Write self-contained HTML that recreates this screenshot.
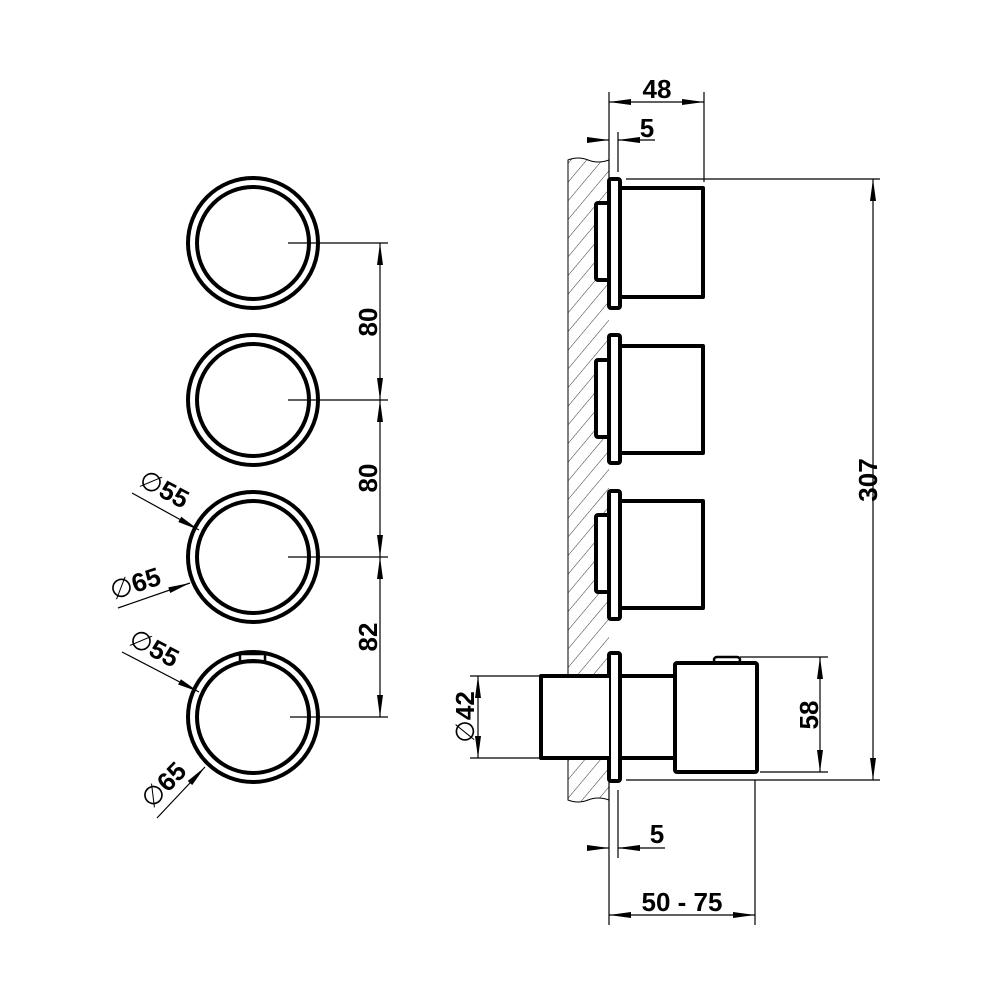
<!DOCTYPE html>
<html><head><style>body{margin:0;background:#fff}svg{display:block}</style></head><body>
<svg width="1000" height="1000" viewBox="0 0 1000 1000" xmlns="http://www.w3.org/2000/svg" font-family="Liberation Sans, sans-serif" font-weight="bold">
<defs>
<pattern id="h" patternUnits="userSpaceOnUse" width="12" height="12" patternTransform="rotate(40)">
<line x1="0" y1="0" x2="0" y2="12" stroke="#000" stroke-width="0.8"/></pattern>
<marker id="a" markerWidth="22" markerHeight="8" refX="22" refY="4" orient="auto" markerUnits="userSpaceOnUse"><path d="M0,1 L22,4 L0,7z" fill="#000"/></marker>
<marker id="b" markerWidth="22" markerHeight="8" refX="0" refY="4" orient="auto" markerUnits="userSpaceOnUse"><path d="M22,1 L0,4 L22,7z" fill="#000"/></marker>
</defs>
<g fill="none" stroke="#000">
<g stroke-width="4">
<circle cx="253" cy="243" r="65"/><circle cx="253" cy="243" r="56"/>
<circle cx="253" cy="400" r="65"/><circle cx="253" cy="400" r="56"/>
<circle cx="253" cy="557" r="65"/><circle cx="253" cy="557" r="56"/>
<circle cx="253" cy="717" r="65"/><circle cx="253" cy="717" r="56"/>
<rect x="240" y="654" width="25" height="8" stroke-width="2.5"/>
</g>
<g stroke-width="1.2">
<line x1="288" y1="243" x2="388" y2="243"/><line x1="288" y1="400" x2="388" y2="400"/>
<line x1="288" y1="557" x2="388" y2="557"/><line x1="290" y1="717" x2="388" y2="717"/>
<line x1="380" y1="243" x2="380" y2="400" marker-start="url(#b)" marker-end="url(#a)"/>
<line x1="380" y1="400" x2="380" y2="557" marker-start="url(#b)" marker-end="url(#a)"/>
<line x1="380" y1="557" x2="380" y2="717" marker-start="url(#b)" marker-end="url(#a)"/>
<line x1="132" y1="493" x2="199" y2="530" marker-end="url(#a)"/>
<line x1="118" y1="608" x2="190" y2="583" marker-end="url(#a)"/>
<line x1="122" y1="652" x2="199" y2="692" marker-end="url(#a)"/>
<line x1="157" y1="818" x2="205" y2="767" marker-end="url(#a)"/>
</g>
<path d="M568,800 L568,160 Q578,156 588,160 T609,160 L609,800 Q598,797 588,800 T568,800z" fill="url(#h)" stroke="none"/>
<path d="M609,160 Q598,164 588,160 T568,160 L568,800 Q578,804 588,800 T609,800" stroke-width="1"/>
<g stroke-width="4" stroke-linejoin="round">
<rect x="609" y="179" width="11" height="129" rx="2" fill="#fff"/><rect x="596" y="203" width="13" height="77" rx="2" fill="#fff"/>
<path d="M620,188 H703 V297 H620"/>
<rect x="609" y="335" width="11" height="128" rx="2" fill="#fff"/><rect x="596" y="360" width="13" height="77" rx="2" fill="#fff"/>
<path d="M620,346 H703 V453 H620"/>
<rect x="609" y="491" width="11" height="128" rx="2" fill="#fff"/><rect x="596" y="515" width="13" height="77" rx="2" fill="#fff"/>
<path d="M620,501 H703 V608 H620"/>
<rect x="609" y="653" width="11" height="128" rx="2" fill="#fff"/>
<path d="M609,676 H541 V758 H609" fill="#fff"/><path d="M620,676 H675 M620,758 H675"/>
<rect x="675" y="663" width="82" height="109" rx="2"/>
<rect x="714" y="657" width="26" height="6" rx="3" stroke-width="2.5"/>
</g>
<g stroke-width="1.2">
<line x1="609" y1="92" x2="609" y2="178"/><line x1="704" y1="92" x2="704" y2="182"/>
<line x1="609" y1="102" x2="704" y2="102" marker-start="url(#b)" marker-end="url(#a)"/>
<line x1="618" y1="132" x2="618" y2="172"/>
<line x1="588" y1="140" x2="609" y2="140" marker-end="url(#a)"/>
<line x1="655" y1="140" x2="618" y2="140" marker-end="url(#a)"/>
<line x1="626" y1="179" x2="880" y2="179"/><line x1="626" y1="780" x2="880" y2="780"/>
<line x1="873" y1="179" x2="873" y2="780" marker-start="url(#b)" marker-end="url(#a)"/>
<line x1="740" y1="657" x2="828" y2="657"/><line x1="760" y1="772" x2="828" y2="772"/>
<line x1="820" y1="657" x2="820" y2="772" marker-start="url(#b)" marker-end="url(#a)"/>
<line x1="470" y1="676" x2="540" y2="676"/><line x1="470" y1="758" x2="540" y2="758"/>
<line x1="478" y1="676" x2="478" y2="758" marker-start="url(#b)" marker-end="url(#a)"/>
<line x1="609" y1="782" x2="609" y2="925"/><line x1="618" y1="790" x2="618" y2="858"/>
<line x1="755" y1="780" x2="755" y2="925"/>
<line x1="588" y1="848" x2="609" y2="848" marker-end="url(#a)"/>
<line x1="665" y1="848" x2="618" y2="848" marker-end="url(#a)"/>
<line x1="609" y1="915" x2="755" y2="915" marker-start="url(#b)" marker-end="url(#a)"/>
</g>
</g>
<g font-size="26" fill="#000">
<text x="657" y="98" text-anchor="middle">48</text>
<text x="647" y="137" text-anchor="middle">5</text>
<text x="657" y="843" text-anchor="middle">5</text>
<text x="682" y="911" text-anchor="middle">50 - 75</text>
<text transform="translate(877,480) rotate(-90)" text-anchor="middle">307</text>
<text transform="translate(818,715) rotate(-90)" text-anchor="middle">58</text>
<text transform="translate(474,717) rotate(-90)" text-anchor="middle"><tspan font-weight="normal">∅</tspan>42</text>
<text transform="translate(377,322) rotate(-90)" text-anchor="middle">80</text>
<text transform="translate(377,478) rotate(-90)" text-anchor="middle">80</text>
<text transform="translate(377,637) rotate(-90)" text-anchor="middle">82</text>
<text transform="translate(160,497) rotate(28)" text-anchor="middle"><tspan font-weight="normal">∅</tspan>55</text>
<text transform="translate(138,592) rotate(-18)" text-anchor="middle"><tspan font-weight="normal">∅</tspan>65</text>
<text transform="translate(150,656) rotate(28)" text-anchor="middle"><tspan font-weight="normal">∅</tspan>55</text>
<text transform="translate(170,791) rotate(-46)" text-anchor="middle"><tspan font-weight="normal">∅</tspan>65</text>
</g>
</svg>
</body></html>
